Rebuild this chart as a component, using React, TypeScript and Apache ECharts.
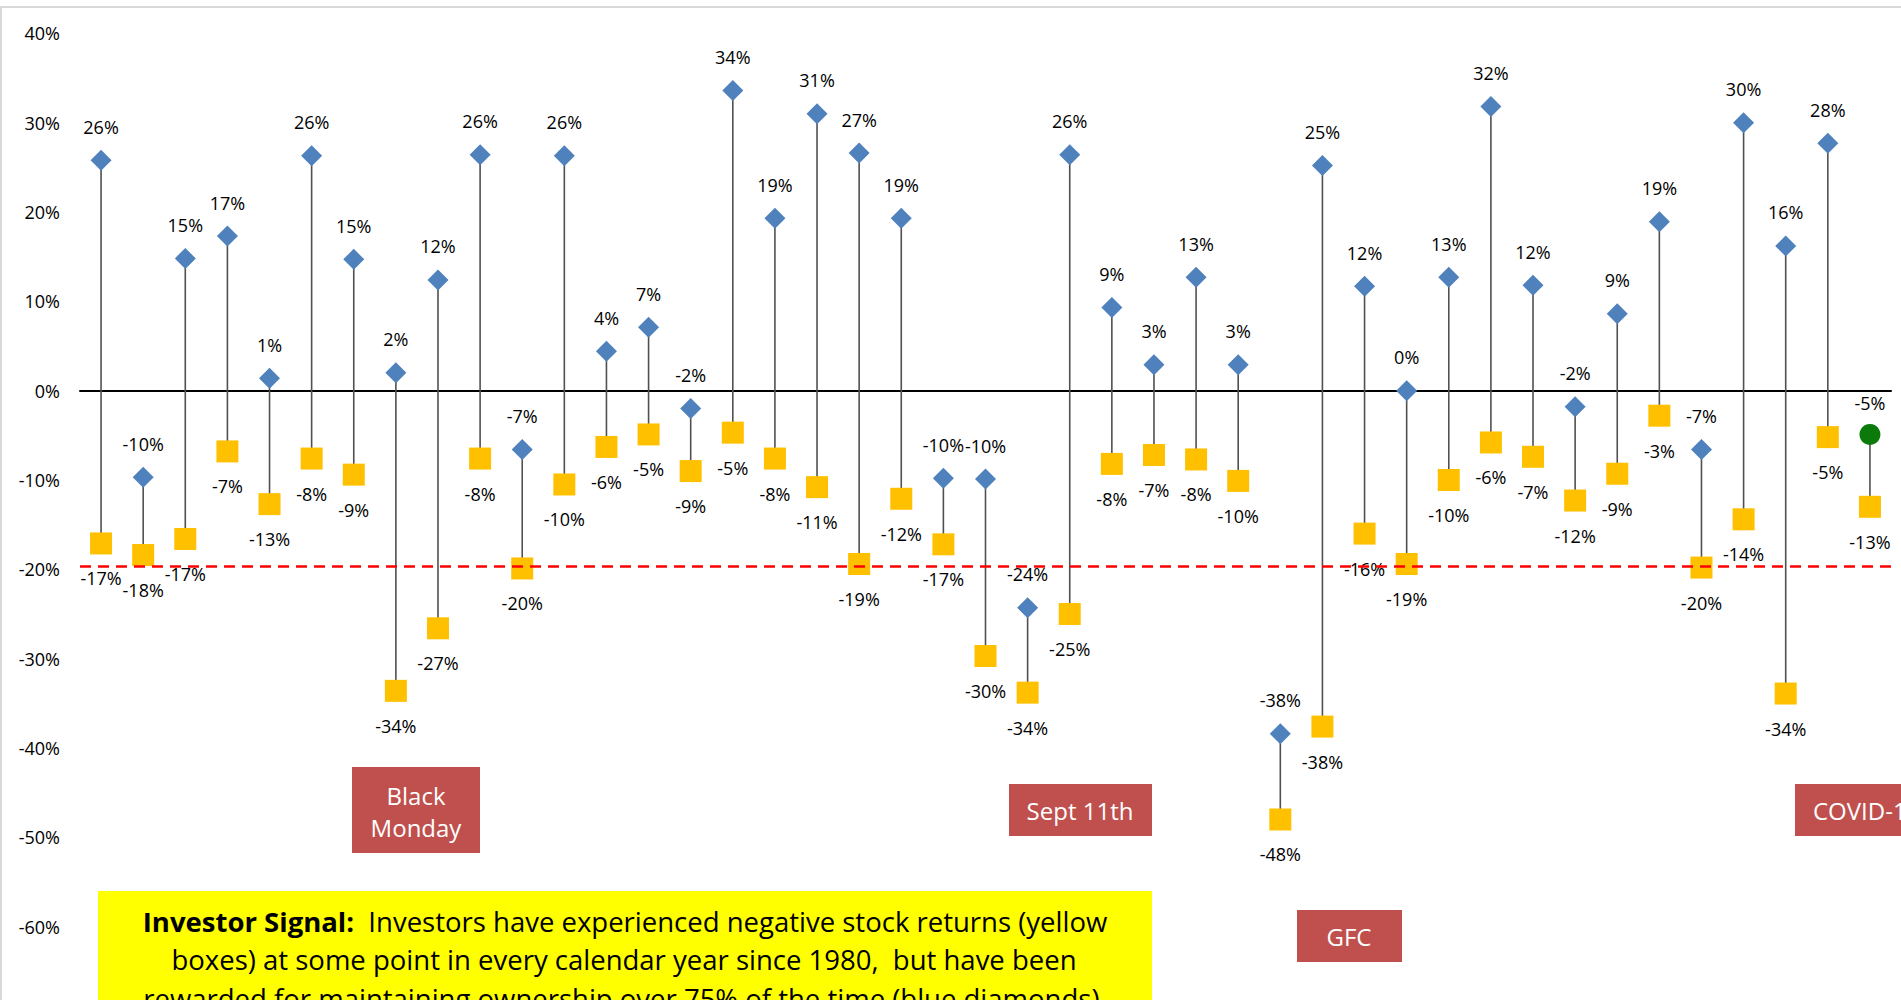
import React, { useEffect, useRef } from "react";
import * as echarts from "echarts";

const years = [
  "1980", "1981", "1982", "1983", "1984", "1985", "1986", "1987", "1988", "1989",
  "1990", "1991", "1992", "1993", "1994", "1995", "1996", "1997", "1998", "1999",
  "2000", "2001", "2002", "2003", "2004", "2005", "2006", "2007", "2008", "2009",
  "2010", "2011", "2012", "2013", "2014", "2015", "2016", "2017", "2018", "2019",
  "2020", "2021", "2022",
];

// Calendar-year returns (blue diamonds), %
const annualReturn: (number | null)[] = [
  25.8, -9.7, 14.8, 17.3, 1.4, 26.3, 14.7, 2.0, 12.4, 26.4,
  -6.6, 26.3, 4.4, 7.1, -2.0, 33.6, 19.3, 31.0, 26.6, 19.3,
  -9.8, -9.9, -24.3, 26.4, 9.3, 2.9, 12.7, 2.9, -38.4, 25.2,
  11.7, 0.0, 12.7, 31.8, 11.8, -1.8, 8.6, 18.9, -6.6, 30.0,
  16.2, 27.7, null,
];

// Largest intra-year decline (yellow boxes), %
const intraYearDecline = [
  -17.1, -18.4, -16.6, -6.8, -12.7, -7.6, -9.4, -33.6, -26.6, -7.6,
  -19.9, -10.5, -6.3, -4.9, -9.0, -4.7, -7.6, -10.8, -19.4, -12.1,
  -17.2, -29.7, -33.8, -25.0, -8.2, -7.2, -7.7, -10.1, -48.0, -37.6,
  -16.0, -19.4, -10.0, -5.8, -7.4, -12.3, -9.3, -2.8, -19.8, -14.4,
  -33.9, -5.2, -13.0,
];

// Year-to-date return (green circle)
const ytdYear = "2022";
const ytdValue = -4.9;

// Bear-market threshold (red dashed line)
const thresholdLine = -19.6;

const yTicks = { min: -60, max: 40, interval: 10 };

const FONT = "'Open Sans', 'Noto Sans', sans-serif";

export default function App() {
  const ref = useRef<HTMLDivElement>(null);

  useEffect(() => {
    if (!ref.current) return;
    const chart = echarts.init(ref.current, undefined, { renderer: "svg" });

    const pct = (p: any) => {
      const v = Array.isArray(p.value) ? p.value[1] : p.value;
      if (v === null || v === undefined) return "";
      const r = Math.round(v);
      return (r === 0 ? 0 : r) + "%";
    };

    const labelBase = {
      show: true,
      fontSize: 18,
      color: "#000",
      fontFamily: FONT,
      formatter: pct,
    };

    const stemData = years.map((_, i) => [
      i,
      annualReturn[i] !== null ? annualReturn[i] : ytdValue,
      intraYearDecline[i],
    ]);

    const calloutFont = 27.5;

    const option: any = {
      animation: false,
      backgroundColor: "#fff",
      grid: { left: 80, right: 10, top: 33.3, bottom: 73.3 },
      xAxis: {
        type: "category",
        data: years,
        axisLine: { onZero: true, lineStyle: { color: "#000", width: 2 } },
        axisTick: { show: false },
        axisLabel: { show: false },
        splitLine: { show: false },
      },
      yAxis: {
        type: "value",
        min: yTicks.min,
        max: yTicks.max,
        interval: yTicks.interval,
        axisLine: { show: false },
        axisTick: { show: false },
        splitLine: { show: false },
        axisLabel: {
          formatter: "{value}%",
          fontSize: 18,
          color: "#000",
          fontFamily: FONT,
          margin: 20,
        },
      },
      series: [
        {
          type: "custom",
          z: 1,
          silent: true,
          data: stemData,
          encode: { x: 0, y: [1, 2] },
          renderItem: (params: any, api: any) => {
            const a = api.coord([api.value(0), api.value(1)]);
            const b = api.coord([api.value(0), api.value(2)]);
            return {
              type: "line",
              shape: { x1: a[0], y1: a[1], x2: b[0], y2: b[1] },
              style: { stroke: "#505050", lineWidth: 1.6 },
            };
          },
        },
        {
          type: "scatter",
          name: "Intra-year decline",
          z: 3,
          symbol: "rect",
          symbolSize: 22,
          itemStyle: { color: "#FFC000", opacity: 1 },
          data: intraYearDecline,
          label: { ...labelBase, position: "bottom", distance: 15 },
          markLine: {
            silent: true,
            symbol: "none",
            label: { show: false },
            lineStyle: { color: "#FF0000", type: [11, 7], width: 2.5, opacity: 1 },
            data: [{ yAxis: thresholdLine }],
          },
        },
        {
          type: "scatter",
          name: "Annual return",
          z: 4,
          symbol: "diamond",
          symbolSize: 21,
          itemStyle: { color: "#4F81BD", opacity: 1 },
          data: annualReturn,
          label: { ...labelBase, position: "top", distance: 14 },
        },
        {
          type: "scatter",
          name: "YTD return",
          z: 4,
          symbol: "circle",
          symbolSize: 21,
          itemStyle: { color: "#0B7A0B", opacity: 1 },
          data: [[ytdYear, ytdValue]],
          label: { ...labelBase, position: "top", distance: 12 },
        },
      ],
      graphic: [
        {
          type: "rect",
          z: -10,
          silent: true,
          shape: { x: 1, y: 7, width: 2000, height: 1100 },
          style: { fill: "none", stroke: "#D9D9D9", lineWidth: 2 },
        },
        {
          type: "rect",
          shape: { x: 352, y: 767, width: 128, height: 86 },
          style: { fill: "#C0504D" },
        },
        {
          type: "text",
          x: 416,
          y: 811,
          style: {
            text: "Black\nMonday",
            fill: "#fff",
            fontSize: 24,
            fontFamily: FONT,
            lineHeight: 32,
            align: "center",
            verticalAlign: "middle",
          },
        },
        {
          type: "rect",
          shape: { x: 1009, y: 784, width: 143, height: 52 },
          style: { fill: "#C0504D" },
        },
        {
          type: "text",
          x: 1080,
          y: 810,
          style: {
            text: "Sept 11th",
            fill: "#fff",
            fontSize: 24,
            fontFamily: FONT,
            align: "center",
            verticalAlign: "middle",
          },
        },
        {
          type: "rect",
          shape: { x: 1297, y: 910, width: 105, height: 52 },
          style: { fill: "#C0504D" },
        },
        {
          type: "text",
          x: 1349,
          y: 936,
          style: {
            text: "GFC",
            fill: "#fff",
            fontSize: 24,
            fontFamily: FONT,
            align: "center",
            verticalAlign: "middle",
          },
        },
        {
          type: "rect",
          shape: { x: 1795, y: 784, width: 170, height: 52 },
          style: { fill: "#C0504D" },
        },
        {
          type: "text",
          x: 1813,
          y: 810,
          style: {
            text: "COVID-19",
            fill: "#fff",
            fontSize: 24,
            fontFamily: FONT,
            align: "left",
            verticalAlign: "middle",
          },
        },
        {
          type: "rect",
          shape: { x: 98, y: 891, width: 1054, height: 200 },
          style: { fill: "#FFFF00" },
        },
        {
          type: "text",
          x: 625,
          y: 921,
          style: {
            text:
              "{b|Investor Signal:}  Investors have experienced negative stock returns (yellow",
            rich: {
              b: { fontWeight: "bold", fontSize: calloutFont, fontFamily: FONT, fill: "#000" },
            },
            fill: "#000",
            fontSize: calloutFont,
            fontFamily: FONT,
            align: "center",
            verticalAlign: "middle",
          },
        },
        {
          type: "text",
          x: 624,
          y: 959,
          style: {
            text: "boxes) at some point in every calendar year since 1980,  but have been",
            fill: "#000",
            fontSize: calloutFont,
            fontFamily: FONT,
            align: "center",
            verticalAlign: "middle",
          },
        },
        {
          type: "text",
          x: 625,
          y: 998,
          style: {
            text: "rewarded for maintaining ownership over 75% of the time (blue diamonds).",
            fill: "#000",
            fontSize: calloutFont,
            fontFamily: FONT,
            align: "center",
            verticalAlign: "middle",
          },
        },
      ],
    };

    chart.setOption(option);
    return () => chart.dispose();
  }, []);

  return (
    <div
      ref={ref}
      style={{ position: "fixed", left: 0, top: 0, width: 1901, height: 1000 }}
    />
  );
}
